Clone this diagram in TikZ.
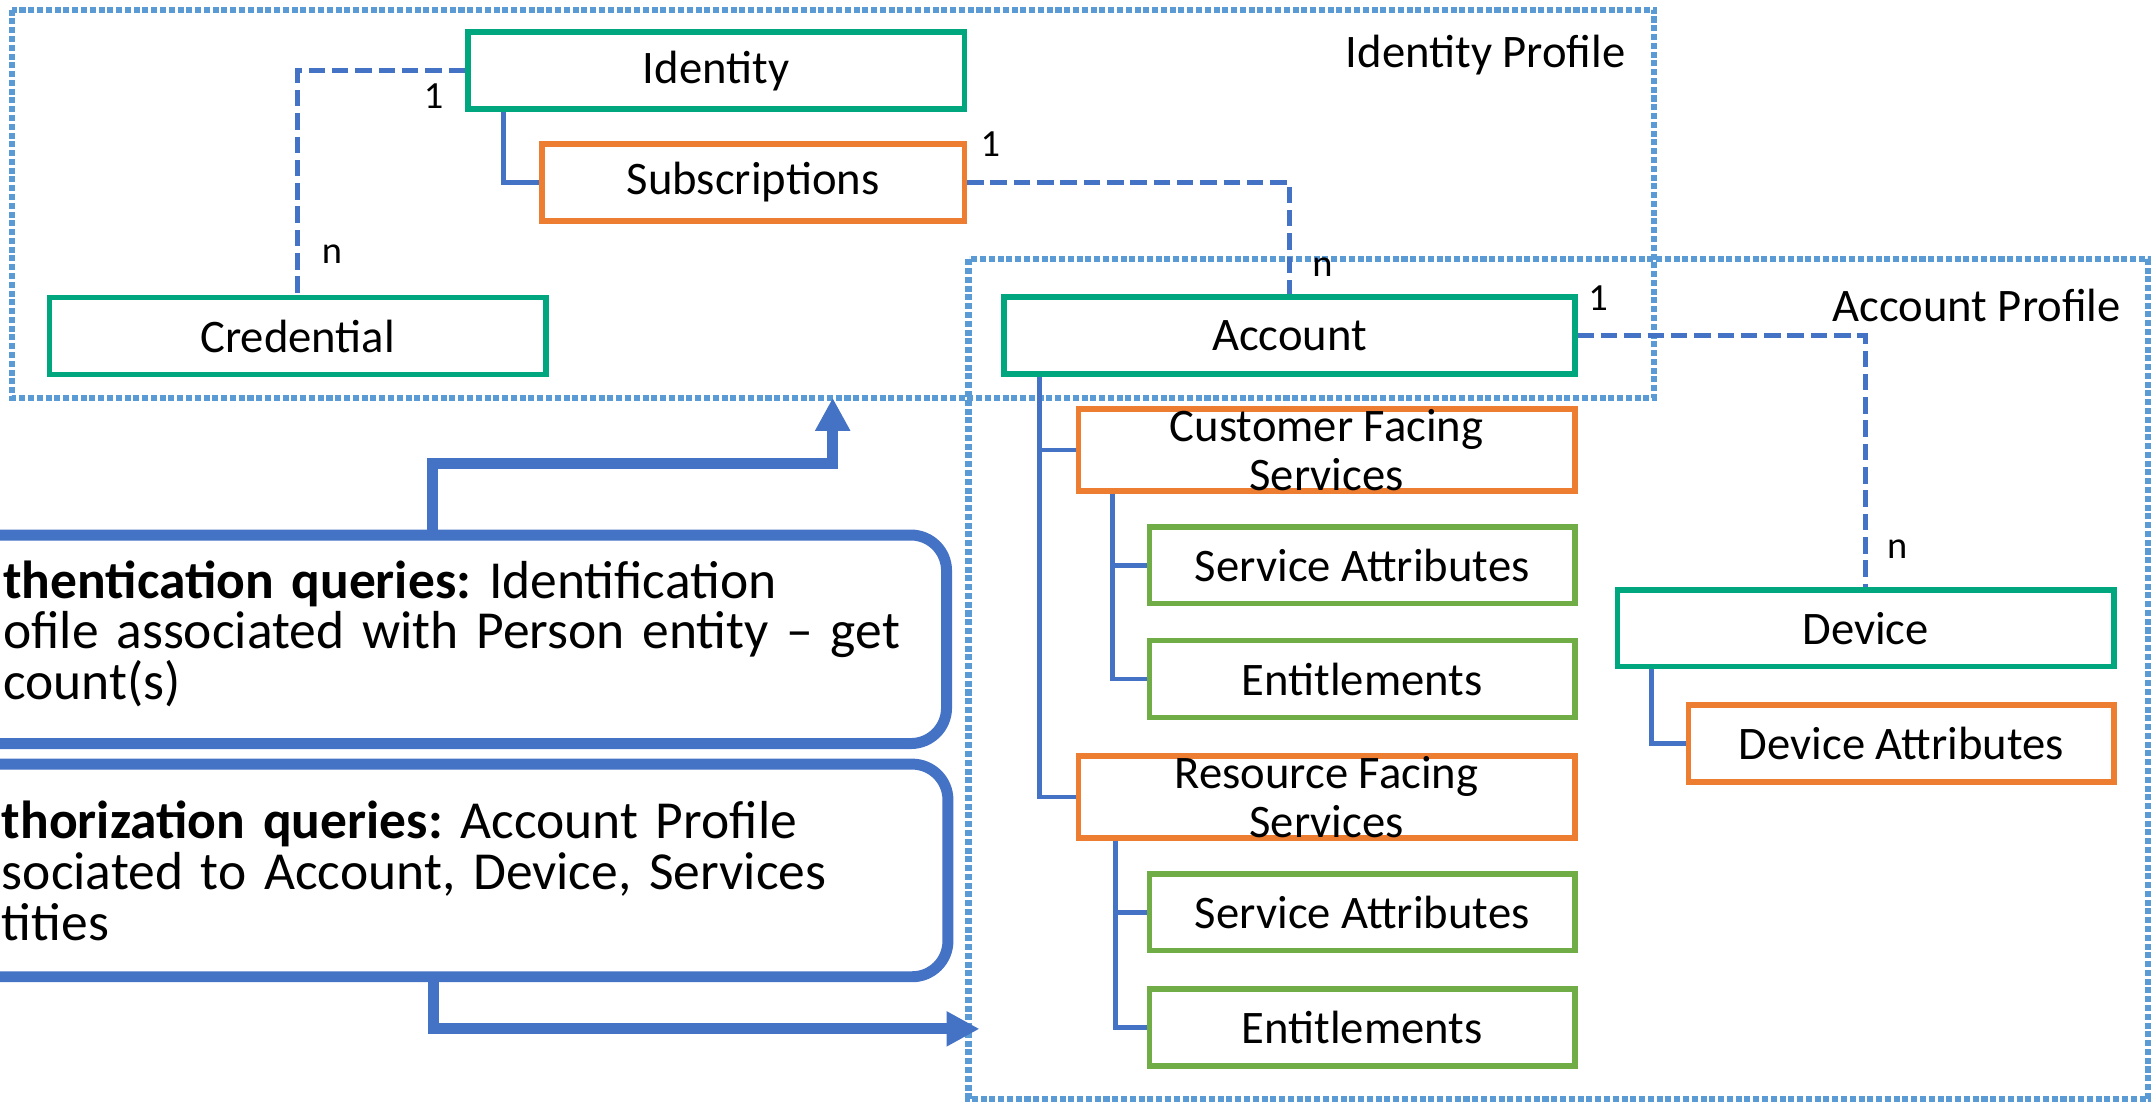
\documentclass[tikz,border=0pt]{standalone}
\usepackage{fontspec}
\setmainfont{Carlito}
\usetikzlibrary{arrows.meta}
\definecolor{frameblue}{RGB}{91,155,213}
\definecolor{linkblue}{RGB}{68,114,196}
\definecolor{entgreen}{RGB}{0,166,126}
\definecolor{attrgreen}{RGB}{112,173,71}
\definecolor{svcorange}{RGB}{237,125,49}
\frenchspacing

\begin{document}
\begin{tikzpicture}[x=0.5pt, y=-0.5pt,
  box/.style = {draw, line width=2pt, fill=white, minimum height=28pt, inner sep=0pt,
    align=center, font=\fontsize{17}{18}\selectfont},
  entity/.style = {box, draw=entgreen, minimum width=181pt},
  service/.style = {box, draw=svcorange, minimum width=181pt},
  attr/.style = {box, draw=attrgreen, minimum width=155pt},
  frame/.style = {draw=frameblue, line width=2.2pt, dash pattern=on 2.2pt off 1pt},
  rel/.style = {draw=linkblue, line width=2pt, dash pattern=on 6pt off 2.5pt},
  tree/.style = {draw=linkblue, line width=1.75pt},
  flow/.style = {draw=linkblue, line width=4pt, -{Triangle[width=12pt,length=12pt]}},
  query/.style = {draw=linkblue, line width=4pt, rounded corners=13pt, fill=white,
    minimum width=375pt},
  qtext/.style = {anchor=west, inner sep=0pt, text width=340pt, align=left,
    font=\fontsize{19.5}{18.5}\selectfont},
  card/.style = {font=\fontsize{14}{14}\selectfont},
  plabel/.style = {anchor=east, font=\fontsize{17}{18}\selectfont}]
\useasboundingbox (0,0) rectangle (1568,804);
\clip (0,0) rectangle (1568,804);

\draw [frame] (9,7) rectangle (1206,290);
\node [plabel] at (1192,40) {Identity Profile};
\draw [frame] (706,189) rectangle (1566,801);
\node [plabel] at (1553,223) {Account Profile};

\node [entity] (identity) at (522,51.5) {Identity};
\node [service, minimum width=154pt] (subscr) at (549,133) {Subscriptions};
\node [entity] (credential) at (217,245) {Credential};
\node [entity, minimum width=208pt] (account) at (940,244.5) {Account};
\node [service] (cfs) at (967,328) {Customer Facing\\Services};
\node [attr] (cfsattr) at (993,412) {Service Attributes};
\node [attr] (cfsent) at (993,495) {Entitlements};
\node [service] (rfs) at (967,581) {Resource Facing\\Services};
\node [attr] (rfsattr) at (993,665) {Service Attributes};
\node [attr] (rfsent) at (993,749) {Entitlements};
\node [entity] (device) at (1360,458) {Device};
\node [service, minimum width=155pt] (devattr) at (1386,542) {Device Attributes};

\draw [rel] (identity.west) -| (credential.north);
\node [card] at (316,70) {1};
\node [card] at (242,185) {n};
\draw [rel] (subscr.east) -| (account.north);
\node [card] at (722,105) {1};
\node [card] at (964,195) {n};
\draw [rel] (account.east) -| (device.north);
\node [card] at (1165,217) {1};
\node [card] at (1383,400) {n};

\draw [tree] ([xshift=14pt]identity.south west) |- (subscr.west);
\draw [tree] ([xshift=14pt]account.south west) |- (cfs.west);
\draw [tree] ([xshift=14pt]account.south west) |- (rfs.west);
\draw [tree] ([xshift=13.5pt]cfs.south west) |- (cfsattr.west);
\draw [tree] ([xshift=13.5pt]cfs.south west) |- (cfsent.west);
\draw [tree] ([xshift=14.5pt]rfs.south west) |- (rfsattr.west);
\draw [tree] ([xshift=14.5pt]rfs.south west) |- (rfsent.west);
\draw [tree] ([xshift=13.5pt]device.south west) |- (devattr.west);

\node [query, minimum height=76pt] (authq) at (315,466) {};
\node [qtext] (authqtext) at (2,462)
  {\textbf{thentication queries:} Identification\\ofile associated with Person entity -- get\\count(s)};
\node [query, minimum height=77.5pt] (authzq) at (316,634.5) {};
\node [qtext] (authzqtext) at (1,635)
  {\textbf{thorization queries:} Account Profile\\sociated to Account, Device, Services\\tities};

\coordinate (idin) at (607,290);
\coordinate (acin) at (714,750);
\draw [flow] (authq.north) -- ++(0,-48) -| (idin);
\draw [flow] (authzq.south) |- (acin);
\end{tikzpicture}
\end{document}
